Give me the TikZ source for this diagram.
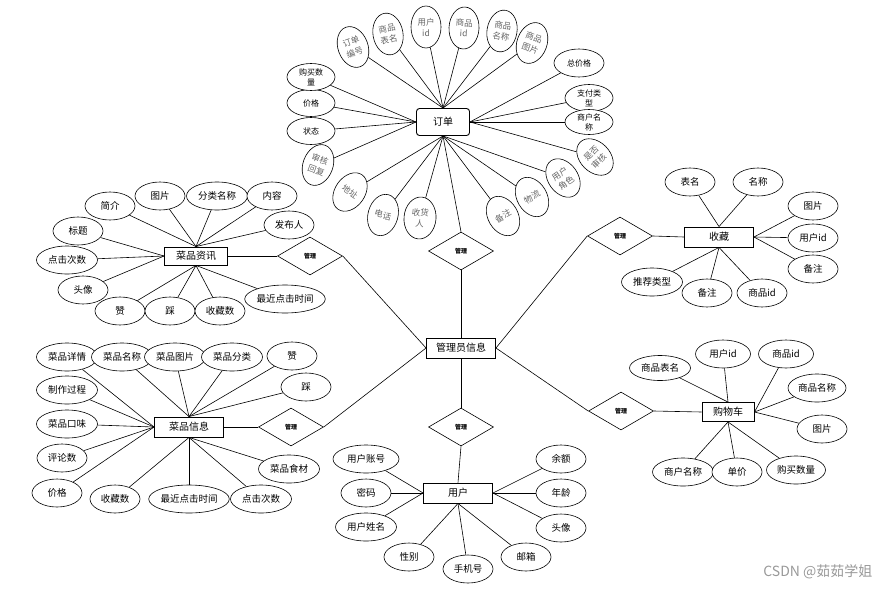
\documentclass[tikz,border=0pt]{standalone}
\usepackage{fontspec}
\setmainfont{Noto Sans CJK SC}
\usetikzlibrary{shapes.geometric,positioning}

\tikzset{
  ent/.style={draw,rectangle,fill=white,line width=0.9pt,minimum width=69,minimum height=20,inner sep=0pt,font=\fontsize{10}{12}\selectfont},
  rel/.style={draw,diamond,fill=white,minimum width=65,minimum height=38,inner sep=0pt,font=\fontsize{6}{7}\selectfont\bfseries},
  attr/.style={draw,ellipse,fill=white,minimum width=50,minimum height=28,inner sep=0pt,font=\fontsize{9.5}{11}\selectfont},
  attr4/.style={attr,minimum width=61},
  attr6/.style={attr,minimum width=80},
  oval/.style={draw,ellipse,fill=white,minimum width=30,minimum height=42,inner sep=0pt,align=center,text=black!60,font=\fontsize{8.5}{11}\selectfont},
  flat/.style={oval,minimum width=48,minimum height=27,text=black,font=\fontsize{8}{10}\selectfont}
}

\begin{document}
\begin{tikzpicture}[x=1pt,y=-1pt,line width=0.6pt]
   \useasboundingbox (0,0) rectangle (877,597);

   % entities
   \node[ent] (GL) at (461,348) {管理员信息};
   \node[ent,minimum width=53,minimum height=27,rounded corners=3pt] (DD) at (443,122) {订单};
   \node[ent,minimum width=63,minimum height=18] (ZX) at (196,256) {菜品资讯};
   \node[ent] (XX) at (189,427) {菜品信息};
   \node[ent] (YH) at (458,493) {用户};
   \node[ent] (SC) at (719,237) {收藏};
   \node[ent,minimum width=52,minimum height=19] (GW) at (728,412) {购物车};

   % relations
   \node[rel] (R1) at (461,251) {管理};
   \node[rel] (R2) at (461,427) {管理};
   \node[rel] (R3) at (310,256) {管理};
   \node[rel] (R4) at (291,427) {管理};
   \node[rel] (R5) at (620,236) {管理};
   \node[rel] (R6) at (621,411) {管理};

   \path
    (GL.north) edge (R1.south)
    (R1.north) edge (DD.south)
    (GL.south) edge (R2.north)
    (R2.south) edge (YH.north)
    (GL.west) edge (R3.east)
              edge (R4.east)
    (GL.east) edge (R5.west)
              edge (R6.west)
    (R3.west) edge (ZX.east)
    (R4.west) edge (XX.east)
    (R5.east) edge (SC.west)
    (R6.east) edge (GW.west);

   % 订单
   \node[oval,rotate=20] (D1) at (353,47) {订单\\编号};
   \node[oval,rotate=10] (D2) at (388,34) {商品\\表名};
   \node[oval] (D3) at (426,27) {用户\\id};
   \node[oval,rotate=-3] (D4) at (464,28) {商品\\id};
   \node[oval,rotate=-10] (D5) at (502,31) {商品\\名称};
   \node[oval,rotate=-20] (D6) at (532,43) {商品\\图片};
   \node[flat,minimum width=50,minimum height=28] (D7) at (579,63) {总价格};
   \node[flat] (D8) at (589,98) {支付类\\型};
   \node[flat,minimum height=25] (D9) at (589,122) {商户名\\称};
   \node[oval,rotate=45] (D10) at (595,157) {是否\\审核};
   \node[oval,rotate=35] (D11) at (563,178) {用户\\角色};
   \node[oval,rotate=30] (D12) at (532,197) {物流};
   \node[oval,rotate=30] (D13) at (503,216) {备注};
   \node[oval,rotate=-5,minimum width=32] (D14) at (420,218) {收货\\人};
   \node[oval,rotate=-15] (D15) at (383,215) {电话};
   \node[oval,rotate=-35] (D16) at (350,192) {地址};
   \node[oval,rotate=-20] (D17) at (318,165) {审核\\回复};
   \node[flat] (D18) at (311,131) {状态};
   \node[flat] (D19) at (311,103) {价格};
   \node[flat] (D20) at (311,77) {购买数\\量};
   \path
    (DD.north) edge (D1) edge (D2) edge (D3) edge (D4) edge (D5) edge (D6)
    (DD.east) edge (D7) edge (D8) edge (D9) edge (D10)
    (DD.south) edge (D11) edge (D12) edge (D13) edge (D14) edge (D15) edge (D16)
    (DD.west) edge (D17) edge (D18) edge (D19) edge (D20);

   % 菜品资讯
   \node[attr] (ZX1) at (110,206) {简介};
   \node[attr] (ZX2) at (160,196) {图片};
   \node[attr4] (ZX3) at (217,196) {分类名称};
   \node[attr] (ZX4) at (272,196) {内容};
   \node[attr] (ZX5) at (289,225) {发布人};
   \node[attr] (ZX6) at (78,231) {标题};
   \node[attr4] (ZX7) at (67,260) {点击次数};
   \node[attr] (ZX8) at (83,290) {头像};
   \node[attr] (ZX9) at (120,311) {赞};
   \node[attr] (ZX10) at (170,311) {踩};
   \node[attr] (ZX11) at (220,311) {收藏数};
   \node[attr6] (ZX12) at (285,299) {最近点击时间};
   \path
    (ZX.north) edge (ZX1) edge (ZX2) edge (ZX3) edge (ZX4) edge (ZX5)
    (ZX.west) edge (ZX6) edge (ZX7) edge (ZX8)
    (ZX.south) edge (ZX9) edge (ZX10) edge (ZX11) edge (ZX12);

   % 菜品信息
   \node[attr4] (XX1) at (67,357) {菜品详情};
   \node[attr4] (XX2) at (122,357) {菜品名称};
   \node[attr4] (XX3) at (175,357) {菜品图片};
   \node[attr4] (XX4) at (232,357) {菜品分类};
   \node[attr] (XX5) at (292,356) {赞};
   \node[attr] (XX6) at (306,387) {踩};
   \node[attr4] (XX7) at (67,390) {制作过程};
   \node[attr4] (XX8) at (67,424) {菜品口味};
   \node[attr] (XX9) at (62,458) {评论数};
   \node[attr] (XX10) at (57,493) {价格};
   \node[attr] (XX11) at (115,499) {收藏数};
   \node[attr6] (XX12) at (189,499) {最近点击时间};
   \node[attr4] (XX13) at (261,499) {点击次数};
   \node[attr4] (XX14) at (289,469) {菜品食材};
   \path
    (XX.north) edge (XX2) edge (XX3) edge (XX4) edge (XX5) edge (XX6)
    (XX.west) edge (XX1) edge (XX7) edge (XX8) edge (XX9) edge (XX10)
    (XX.south) edge (XX11) edge (XX12) edge (XX13) edge (XX14);

   % 用户
   \node[attr,minimum width=66] (YH1) at (366,459) {用户账号};
   \node[attr] (YH2) at (366,493) {密码};
   \node[attr4] (YH3) at (366,527) {用户姓名};
   \node[attr] (YH4) at (409,557) {性别};
   \node[attr] (YH5) at (468,569) {手机号};
   \node[attr] (YH6) at (526,557) {邮箱};
   \node[attr] (YH7) at (561,459) {余额};
   \node[attr] (YH8) at (561,493) {年龄};
   \node[attr] (YH9) at (561,528) {头像};
   \path
    (YH.west) edge (YH1) edge (YH2) edge (YH3)
    (YH.south) edge (YH4) edge (YH5) edge (YH6)
    (YH.east) edge (YH7) edge (YH8) edge (YH9);

   % 收藏
   \node[attr] (SC1) at (690,182) {表名};
   \node[attr] (SC2) at (758,182) {名称};
   \node[attr] (SC3) at (813,206) {图片};
   \node[attr] (SC4) at (813,238) {用户id};
   \node[attr] (SC5) at (813,269) {备注};
   \node[attr4] (SC6) at (652,282) {推荐类型};
   \node[attr] (SC7) at (707,293) {备注};
   \node[attr] (SC8) at (762,293) {商品id};
   \path
    (SC.north) edge (SC1) edge (SC2)
    (SC.east) edge (SC3) edge (SC4) edge (SC5)
    (SC.south) edge (SC6) edge (SC7) edge (SC8);

   % 购物车
   \node[attr4,minimum height=25] (GW1) at (660,368) {商品表名};
   \node[attr,minimum width=55] (GW2) at (723,354) {用户id};
   \node[attr,minimum width=55] (GW3) at (786,354) {商品id};
   \node[attr,minimum width=58] (GW4) at (817,388) {商品名称};
   \node[attr] (GW5) at (822,429) {图片};
   \node[attr4] (GW6) at (683,472) {商户名称};
   \node[attr] (GW7) at (737,472) {单价};
   \node[attr,minimum width=59] (GW8) at (796,470) {购买数量};
   \path
    (GW.north) edge (GW1) edge (GW2)
    (GW.east) edge (GW3) edge (GW4) edge (GW5)
    (GW.south) edge (GW6) edge (GW7) edge (GW8);

   \node[anchor=east,text=black!40,font=\fontsize{14}{16}\selectfont] (WM) at (876,572) {CSDN @茹茹学姐};
\end{tikzpicture}
\end{document}
